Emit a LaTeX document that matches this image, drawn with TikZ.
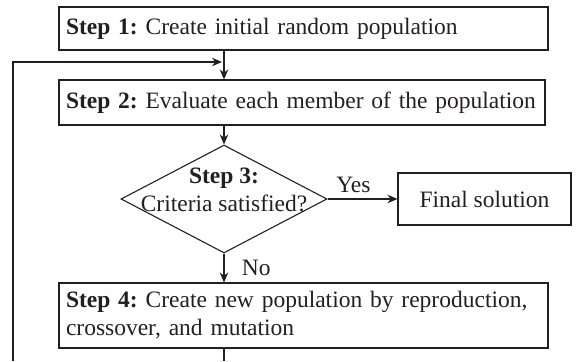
\documentclass[tikz,border=0pt]{standalone}
\usepackage{fontspec}
\setmainfont{Liberation Serif}
\usetikzlibrary{shapes.geometric,arrows.meta}
\definecolor{ink}{HTML}{231F20}
\frenchspacing
\begin{document}
\begin{tikzpicture}[x=1pt,y=-1pt,
  every node/.style={font=\fontsize{23.5}{28}\selectfont, text=ink},
  stepbox/.style={draw=ink, line width=1.1pt, rectangle, inner xsep=7pt, inner ysep=0pt, align=left},
  conn/.style={draw=ink, line width=1.1pt},
  arr/.style={conn, -{Stealth[length=10pt,width=8.5pt]}}]
\useasboundingbox (0,0) rectangle (580,361);
\node[stepbox, text width=475pt, minimum height=43pt] (s1) at (303.5,28.5) {\mbox{\textbf{Step 1:} Create initial random population}};
\node[stepbox, text width=472pt, minimum height=45pt] (s2) at (302,102.5) {\mbox{\textbf{Step 2:} Evaluate each member of the population}};
\node[diamond, draw=ink, line width=1.1pt, minimum width=206pt, minimum height=108pt, inner sep=0pt] (d) at (224,199) {};
\node[align=center, inner sep=0pt] (dt) at (224,190) {\textbf{Step 3:}\\Criteria satisfied?};
\node[draw=ink, line width=1.1pt, minimum width=173pt, minimum height=52pt, inner sep=0pt] (fin) at (484.5,199) {Final solution};
\node[stepbox, text width=475pt, minimum height=65pt] (s4) at (303.5,315.5) {\mbox{\textbf{Step 4:} Create new population by reproduction,}\\\mbox{crossover, and mutation}};
\coordinate (loopbot) at (13,361);
\coordinate (loopin) at (222,62);
\coordinate (s4out) at (224,361);
\draw[arr] (d.north |- s1.south) -- (d.north |- s2.north);
\draw[arr] (d.north |- s2.south) -- (d.north);
\draw[arr] (d.east) -- node[above, pos=0.37, yshift=2pt] {Yes} (fin.west);
\draw[arr] (d.south) -- node[right, xshift=14pt] {No} (d.south |- s4.north);
\draw[conn] (d.south |- s4.south) -- (s4out);
\draw[arr] (loopbot) |- (loopin);
\end{tikzpicture}
\end{document}
